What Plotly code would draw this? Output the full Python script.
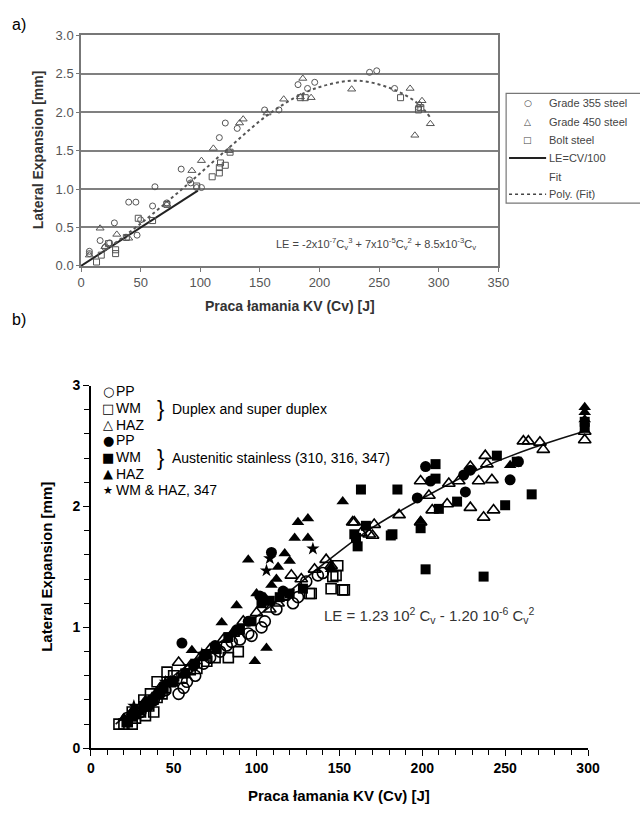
import plotly.graph_objects as go

# ---------------- Panel a) data ----------------
a355_cv = [7, 7, 16, 20, 24, 28, 40, 46, 47, 50, 60, 62, 72, 84, 91, 92, 97, 101, 116, 121, 131, 154, 166, 182, 190, 196, 242, 248, 263, 283]
a355_le = [0.19, 0.16, 0.33, 0.24, 0.30, 0.56, 0.83, 0.83, 0.40, 0.60, 0.78, 1.03, 0.82, 1.26, 1.12, 1.08, 1.02, 1.02, 1.67, 1.86, 1.79, 2.03, 2.03, 2.36, 2.31, 2.39, 2.52, 2.54, 2.31, 2.06]

a450_cv = [7, 16, 20, 30, 40, 72, 93, 101, 111, 124, 133, 136, 156, 170, 184, 186, 193, 227, 276, 280, 284, 286, 293]
a450_le = [0.14, 0.49, 0.25, 0.41, 0.36, 0.80, 1.24, 1.37, 1.53, 1.50, 1.86, 1.91, 1.99, 2.17, 2.20, 2.44, 2.19, 2.30, 2.31, 1.70, 2.10, 2.15, 1.85]

abolt_cv = [13, 17, 23, 29, 29, 38, 48, 60, 72, 97, 110, 116, 116, 117, 121, 125, 184, 188, 268, 283, 285]
abolt_le = [0.05, 0.14, 0.29, 0.21, 0.16, 0.37, 0.62, 0.59, 0.80, 1.04, 1.16, 1.21, 1.28, 1.34, 1.31, 1.48, 2.19, 2.19, 2.19, 2.03, 2.06]

a_line_cv = [0, 98]
a_line_le = [0, 0.98]

a_poly_cv = [20, 50, 90, 125, 157, 187, 210, 233, 260, 282, 293]
a_poly_le = [0.20, 0.55, 1.07, 1.55, 1.97, 2.25, 2.37, 2.41, 2.31, 2.12, 1.93]

# ---------------- Panel b) data ----------------
dpp_cv = [22, 30, 38, 45, 53, 56, 58, 63, 68, 72, 78, 82, 85, 90, 95, 97, 103, 105, 112, 118, 122, 125, 130, 137, 140]
dpp_le = [0.25, 0.30, 0.40, 0.48, 0.45, 0.50, 0.55, 0.60, 0.70, 0.75, 0.80, 0.85, 0.88, 0.90, 0.95, 0.93, 1.00, 1.05, 1.15, 1.27, 1.20, 1.25, 1.38, 1.43, 1.45]

dwm_cv = [17, 20, 22, 25, 25, 27, 30, 32, 33, 35, 36, 38, 40, 40, 43, 45, 46, 48, 50, 55, 60, 64, 70, 75, 83, 89, 132, 133, 145, 146, 148, 149, 152, 153]
dwm_le = [0.20, 0.20, 0.22, 0.20, 0.30, 0.25, 0.30, 0.40, 0.27, 0.35, 0.45, 0.30, 0.42, 0.55, 0.45, 0.50, 0.63, 0.55, 0.60, 0.58, 0.65, 0.66, 0.72, 0.75, 0.75, 0.80, 1.28, 1.28, 1.32, 1.42, 1.43, 1.51, 1.31, 1.31]

dhaz_cv = [24, 28, 35, 42, 48, 53, 60, 66, 72, 80, 86, 92, 100, 108, 113, 116, 121, 127, 135, 142, 145, 158, 159, 163, 168, 170, 171, 186, 199, 199, 204, 206, 215, 216, 222, 229, 229, 234, 237, 238, 239, 242, 243, 261, 264, 271, 273, 298, 298]
dhaz_le = [0.25, 0.30, 0.38, 0.50, 0.55, 0.71, 0.68, 0.75, 0.82, 0.90, 0.95, 1.05, 1.12, 1.15, 1.20, 1.25, 1.43, 1.40, 1.48, 1.56, 1.51, 1.87, 1.87, 1.78, 1.77, 1.76, 1.85, 1.93, 2.21, 1.87, 2.09, 1.97, 2.02, 2.19, 2.21, 2.33, 1.99, 2.21, 1.91, 2.42, 2.35, 2.22, 1.97, 2.54, 2.54, 2.53, 2.47, 2.55, 2.62]

app_cv = [25, 35, 42, 55, 62, 75, 88, 95, 102, 109, 116, 197, 202, 205, 225, 226, 229, 253, 258]
app_le = [0.28, 0.35, 0.45, 0.87, 0.68, 0.85, 0.98, 1.05, 1.26, 1.62, 1.30, 2.07, 2.33, 2.21, 2.26, 2.12, 2.30, 2.22, 2.37]

awm_cv = [22, 27, 32, 38, 44, 50, 57, 63, 70, 76, 83, 90, 97, 103, 108, 114, 120, 128, 159, 160, 161, 163, 166, 181, 182, 185, 199, 202, 208, 208, 210, 221, 237, 245, 250, 257, 266, 298, 298]
awm_le = [0.22, 0.28, 0.35, 0.40, 0.50, 0.55, 0.62, 0.70, 0.78, 0.82, 0.92, 0.98, 1.05, 1.20, 1.22, 1.25, 1.28, 1.32, 1.77, 1.74, 1.67, 2.14, 1.84, 1.76, 1.77, 2.14, 1.82, 1.48, 2.35, 2.23, 1.98, 2.04, 1.42, 2.42, 2.01, 2.37, 2.10, 2.65, 2.70]

ahaz_cv = [20, 26, 33, 40, 47, 55, 61, 68, 79, 85, 88, 95, 99, 100, 105, 106, 109, 112, 113, 117, 120, 123, 125, 131, 131, 145, 145, 152, 199, 253, 298, 298, 298]
ahaz_le = [0.25, 0.33, 0.40, 0.47, 0.55, 0.60, 0.81, 0.75, 1.04, 0.95, 1.18, 1.56, 0.72, 1.28, 1.25, 0.83, 1.35, 1.40, 1.50, 1.61, 1.55, 1.74, 1.87, 1.90, 1.74, 1.50, 1.48, 2.04, 1.88, 2.34, 2.72, 2.78, 2.82]

star_cv = [26, 31, 45, 67, 106, 108, 134]
star_le = [0.35, 0.30, 0.55, 0.78, 1.47, 1.57, 1.65]

b_fit_cv = [15, 50, 108, 140, 165, 185, 236, 270, 300]
b_fit_le = [0.20, 0.60, 1.17, 1.52, 1.78, 1.95, 2.32, 2.50, 2.63]

W, H = 640, 823
def PX(x):
    return x / W
def PY(y):
    return 1 - y / H

GRAY = "#555555"
FONT = "Liberation Sans, Arial, sans-serif"

fig = go.Figure()

# ---- panel a traces ----
fig.add_trace(go.Scatter(x=a_line_cv, y=a_line_le, mode="lines", line=dict(color="#222", width=2),
                         xaxis="x", yaxis="y", showlegend=False))
fig.add_trace(go.Scatter(x=a_poly_cv, y=a_poly_le, mode="lines", line=dict(color="#555", width=2, dash="dot", shape="spline"),
                         xaxis="x", yaxis="y", showlegend=False))
fig.add_trace(go.Scatter(x=a355_cv, y=a355_le, mode="markers",
                         marker=dict(symbol="circle-open", size=6, color=GRAY, line=dict(width=1)),
                         xaxis="x", yaxis="y", showlegend=False))
fig.add_trace(go.Scatter(x=a450_cv, y=a450_le, mode="markers",
                         marker=dict(symbol="triangle-up-open", size=7, color=GRAY, line=dict(width=1)),
                         xaxis="x", yaxis="y", showlegend=False))
fig.add_trace(go.Scatter(x=abolt_cv, y=abolt_le, mode="markers",
                         marker=dict(symbol="square-open", size=6, color=GRAY, line=dict(width=1)),
                         xaxis="x", yaxis="y", showlegend=False))

# ---- panel b traces ----
fig.add_trace(go.Scatter(x=b_fit_cv, y=b_fit_le, mode="lines", line=dict(color="#111", width=1.6, shape="spline"),
                         xaxis="x2", yaxis="y2", showlegend=False))
mk = dict(xaxis="x2", yaxis="y2", showlegend=False, mode="markers", cliponaxis=False)
fig.add_trace(go.Scatter(x=dpp_cv, y=dpp_le, marker=dict(symbol="circle-open", size=11, color="black", line=dict(width=1.6)), **mk))
fig.add_trace(go.Scatter(x=dwm_cv, y=dwm_le, marker=dict(symbol="square-open", size=10, color="black", line=dict(width=1.6)), **mk))
fig.add_trace(go.Scatter(x=dhaz_cv, y=dhaz_le, marker=dict(symbol="triangle-up-open", size=11, color="black", line=dict(width=1.6)), **mk))
fig.add_trace(go.Scatter(x=app_cv, y=app_le, marker=dict(symbol="circle", size=11, color="black"), **mk))
fig.add_trace(go.Scatter(x=awm_cv, y=awm_le, marker=dict(symbol="square", size=10, color="black"), **mk))
fig.add_trace(go.Scatter(x=ahaz_cv, y=ahaz_le, marker=dict(symbol="triangle-up", size=11, color="black"), **mk))
fig.add_trace(go.Scatter(x=star_cv, y=star_le, marker=dict(symbol="star", size=10, color="black"), **mk))

ann = []
def A(text, x, y, size=12, color="black", xanchor="left", yanchor="middle", bold=False, angle=0, family=FONT):
    ann.append(dict(text=("<b>%s</b>" % text) if bold else text, x=PX(x), y=PY(y), xref="paper", yref="paper",
                    showarrow=False, xanchor=xanchor, yanchor=yanchor, textangle=angle, borderpad=0,
                    font=dict(size=size, color=color, family=family)))

# panel labels
A("a)", 7, 17, size=16, xanchor="left")
A("b)", 7, 318, size=16, xanchor="left")

# panel a titles
A("Lateral Expansion [mm]", 35, 145, size=14, color="#333", xanchor="center", bold=True, angle=-90)
A("Praca łamania KV (Cv) [J]", 293, 304, size=14, color="#333", xanchor="center", bold=True)
A("LE = -2x10<sup>-7</sup>C<sub>v</sub><sup>3</sup> + 7x10<sup>-5</sup>C<sub>v</sub><sup>2</sup> + 8.5x10<sup>-3</sup>C<sub>v</sub>",
  278, 241, size=11, color="#444")

# panel a legend (text + symbols)
leg_rows = [97, 116, 135, 153, 172, 190]
leg_txt = ["Grade 355 steel", "Grade 450 steel", "Bolt steel", "LE=CV/100", "Fit", "Poly. (Fit)"]
leg_sym = ["○", "△", "□", "", "", ""]
for yy, t, s in zip(leg_rows, leg_txt, leg_sym):
    A(t, 558, yy, size=11, color="#444")
    if s:
        A(s, 537, yy, size=9, color="#444", xanchor="center", family="DejaVu Sans")

# panel b titles
A("Lateral Expansion [mm]", 44, 570, size=15, xanchor="center", bold=True, angle=-90)
A("Praca łamania KV (Cv) [J]", 344, 803, size=15, xanchor="center", bold=True)
A("LE = 1.23 10<sup>2</sup> C<sub>v</sub> - 1.20 10<sup>-6</sup> C<sub>v</sub><sup>2</sup>", 327, 620, size=15, color="#333")

# panel b legend
b_rows = [391, 408, 425, 441, 458, 475, 492]
b_sym = ["○", "□", "△", "●", "■", "▲", "★"]
b_txt = ["PP", "WM", "HAZ", "PP", "WM", "HAZ", "WM &amp; HAZ, 347"]
for yy, s, t in zip(b_rows, b_sym, b_txt):
    A(s, 107, yy, size=13 if s != "★" else 11, xanchor="center", family="DejaVu Sans")
    A(t, 114, yy, size=14)
A("}", 160, 408, size=22, xanchor="center")
A("Duplex and super duplex", 171, 409, size=14)
A("}", 160, 458, size=22, xanchor="center")
A("Austenitic stainless (310, 316, 347)", 171, 459, size=14)

shapes = [dict(type="rect", xref="paper", yref="paper", x0=PX(515), x1=PX(660), y0=PY(199), y1=PY(87),
               line=dict(color="#777", width=1.2), fillcolor="rgba(0,0,0,0)"),
          dict(type="line", xref="paper", yref="paper", x0=PX(518), x1=PX(556), y0=PY(153), y1=PY(153),
               line=dict(color="#222", width=2)),
          dict(type="line", xref="paper", yref="paper", x0=PX(518), x1=PX(556), y0=PY(190), y1=PY(190),
               line=dict(color="#444", width=1.5, dash="dot"))]

fig.update_layout(
    width=W, height=H, margin=dict(l=0, r=0, t=0, b=0),
    paper_bgcolor="white", plot_bgcolor="white",
    font=dict(family=FONT, color="black", size=12),
    annotations=ann, shapes=shapes,
    xaxis=dict(domain=[PX(79), PX(507)], range=[0, 350], dtick=50, anchor="y",
               showline=True, linecolor="#777", linewidth=1.5, mirror=True,
               ticks="outside", ticklen=4, tickcolor="#777", showgrid=False, zeroline=False,
               tickfont=dict(size=13, color="#555", family=FONT)),
    yaxis=dict(domain=[PY(263), PY(28)], range=[0, 3.0], dtick=0.5, tickformat=".1f", anchor="x",
               showline=True, linecolor="#777", linewidth=1.5, mirror=True,
               ticks="outside", ticklen=3, tickcolor="#777",
               showgrid=True, gridcolor="#808080", gridwidth=1.5, zeroline=False,
               tickfont=dict(size=13, color="#555", family=FONT)),
    xaxis2=dict(domain=[PX(89), PX(599)], range=[0, 300], dtick=50, anchor="y2",
                showline=True, linecolor="black", linewidth=1.5,
                ticks="outside", ticklen=6, tickwidth=1.3, tickcolor="black", showgrid=False, zeroline=False,
                minor=dict(dtick=10, ticks="outside", ticklen=5, tickcolor="black", showgrid=False),
                tickfont=dict(size=14, color="black", family=FONT, weight="bold")),
    yaxis2=dict(domain=[PY(755), PY(385)], range=[0, 3], dtick=1, anchor="x2",
                showline=True, linecolor="black", linewidth=1.5,
                ticks="outside", ticklen=6, tickwidth=1.3, tickcolor="black", showgrid=False, zeroline=False,
                minor=dict(dtick=0.2, ticks="outside", ticklen=5, tickcolor="black", showgrid=False),
                tickfont=dict(size=14, color="black", family=FONT, weight="bold")),
)

fig.write_html("out.html")
